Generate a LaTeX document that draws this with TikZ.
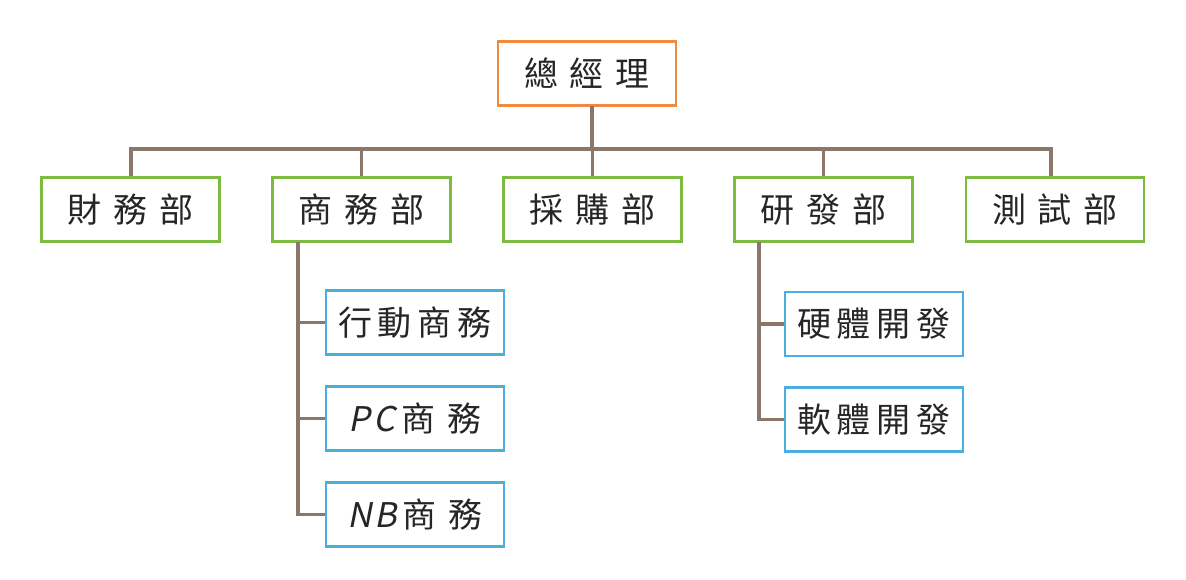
\documentclass[tikz,border=0pt]{standalone}
\usepackage{fontspec}
\newfontfamily\cjk{Noto Sans CJK TC}
\newfontfamily\latslant{Noto Sans CJK TC}[FakeSlant=0.2]
\newcommand\cgap{\hspace{12pt}}
\newcommand\sgap{\hspace{6pt}}
\definecolor{orangeb}{HTML}{F08A3C}
\definecolor{greenb}{HTML}{7DBB42}
\definecolor{blueb}{HTML}{4BAEE0}
\definecolor{linec}{HTML}{8B766A}
\begin{document}
\begin{tikzpicture}[x=1pt,y=-1pt,
  box/.style={draw, line width=2.6pt, fill=white, minimum width=178pt, minimum height=64pt,
     inner sep=0pt, font=\cjk\fontsize{34}{38}\selectfont, text=black!85},
  topbox/.style={box, draw=orangeb},
  deptbox/.style={box, draw=greenb},
  subbox/.style={box, draw=blueb},
  conn/.style={draw=linec, line width=3.6pt}]
\useasboundingbox (0,0) rectangle (1186,580);
\fill[white] (0,0) rectangle (1186,580);
% bus coordinates
\coordinate (busL) at (131,149);
\coordinate (busR) at (1051,149);
% nodes
\node[topbox] (gm) at (587,73.5) {總\cgap 經\cgap 理};
\node[deptbox] (fin) at (130.5,209.5) {財\cgap 務\cgap 部};
\node[deptbox] (biz) at (361.5,209.5) {商\cgap 務\cgap 部};
\node[deptbox] (pur) at (592.5,209.5) {採\cgap 購\cgap 部};
\node[deptbox] (rd) at (823.5,209.5) {研\cgap 發\cgap 部};
\node[deptbox] (test) at (1055,209.5) {測\cgap 試\cgap 部};
\node[subbox] (mob) at (415,322.5) {行\sgap 動\sgap 商\sgap 務};
\node[subbox] (pc) at (415,418.5) {{\latslant P\hspace{3pt}C}\sgap 商\cgap 務};
\node[subbox] (nb) at (415,514.5) {{\latslant N\hspace{2pt}B}\sgap 商\cgap 務};
\node[subbox] (hw) at (874,324) {硬\sgap 體\sgap 開\sgap 發};
\node[subbox] (sw) at (874,419.5) {軟\sgap 體\sgap 開\sgap 發};
% trunk coordinates
\coordinate (gmB) at (592,106);
\coordinate (bizT) at (298,242);
\coordinate (rdT) at (759,242);
% connectors
\draw[conn] (gmB) -- (gmB |- busL);
\draw[conn, line join=miter] (fin.north -| busL) -- (busL) -- (busR) -- (test.north -| busR);
\draw[conn] (biz.north) -- (biz.north |- busL);
\draw[conn] (pur.north) -- (pur.north |- busL);
\draw[conn] (rd.north) -- (rd.north |- busL);
\draw[conn, line join=miter] (bizT) -- (bizT |- nb.west) -- (nb.west);
\draw[conn] (bizT |- mob.west) -- (mob.west);
\draw[conn] (bizT |- pc.west) -- (pc.west);
\draw[conn, line join=miter] (rdT) -- (rdT |- sw.west) -- (sw.west);
\draw[conn] (rdT |- hw.west) -- (hw.west);
\end{tikzpicture}
\end{document}
